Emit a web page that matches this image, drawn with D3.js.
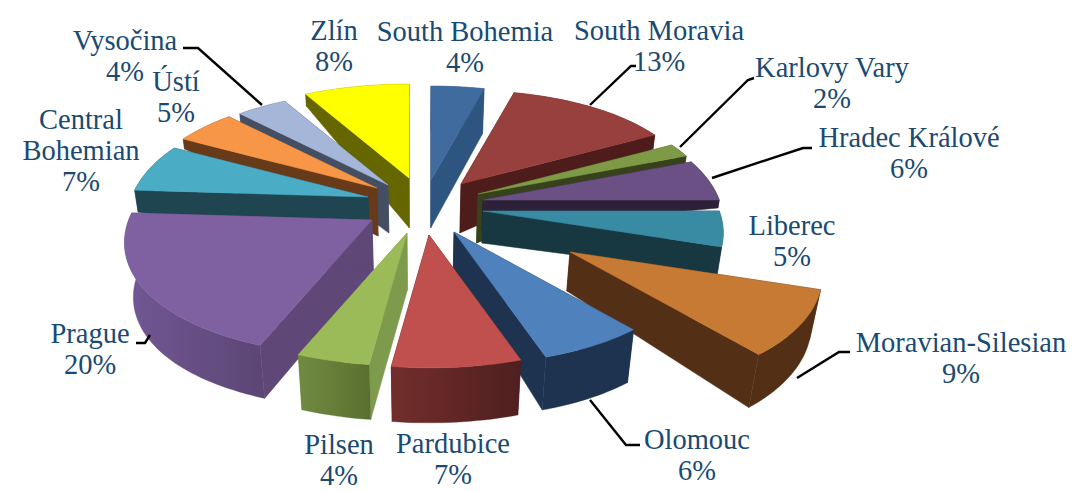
<!DOCTYPE html>
<html><head><meta charset="utf-8">
<script src="https://cdn.jsdelivr.net/npm/d3@7"></script>
<style>html,body{margin:0;background:#fff}svg{display:block}</style></head>
<body><svg id="c" width="1072" height="491"></svg>
<script>
// ---- data ----
const regions = ["South Bohemia","South Moravia","Karlovy Vary","Hradec Králové","Liberec","Moravian-Silesian","Olomouc","Pardubice","Pilsen","Prague","Central Bohemian","Ústí","Vysočina","Zlín"];
const shares  = [4,13,2,6,5,9,6,7,4,20,7,5,4,8];
// ---- style ----
const topColors  = ["#3f6b9e","#97403d","#7f9a46","#6a5085","#398ba3","#c67a34","#4f81bd","#c0504d","#9bbb59","#7f60a0","#4bacc6","#f79646","#a6b6d8","#ffff00"];
const wallColors = ["#2e5580","#4e1c1a","#37421c","#2c2138","#173840","#532f16","#1d334f","#52201f","#7e9a4c","#5f4877","#1f4550","#673b1a","#454f63","#666600"];
const rimLeft    = ["#2e5580","#4e1c1a","#37421c","#2c2138","#173840","#532f16","#1d334f","#722e2c","#718b42","#725895","#1f4550","#673b1a","#454f63","#666600"];
const rimRight   = ["#2e5580","#4e1c1a","#37421c","#2c2138","#173840","#532f16","#1d334f","#4f1f1f","#5a7030","#5c4675","#1f4550","#673b1a","#454f63","#666600"];
// ---- layout ----
const cx = 420, cy = 210, rx = 250, ry = 110, persp = 0.172, taper = 0.03, sideSquash = 0.055;
const explodeX = [11,41,58,63,63,150,34,9,-13,-48,-52,-43,-32,-11];
const explodeY = [-30,-26,-16,-10,1,42,22,25,23,10,-13,-22,-25,-32];
const radiusScale = [1,1,1,1,1,1.05,1,1,1,1.03,1,1,1,1];
const depthTip = [48,49,49,30,32,39,36,56,57,50,48,48,48,50];
const depthStart = [45,14,8,8,27,50,53,55,55,53,22,10,10,12];
const depthEnd   = [45,14,8,8,27,53,53,55,55,55,22,10,10,12];
const labelX = [465,659,832,909,792,961,697,453,339,90,81,176,125,334];
const labelY = [32,31,68,138,226,343,440,444,445,334,120,82,41,31];
const leaders = [
  [[590,105],[631,66],[636,66]],
  [[680,147],[748,80],[754,78]],
  [[712,178],[803,148],[812,148]],
  [[797,378],[839,352],[850,352]],
  [[590,400],[626,445],[640,445]],
  [[136,343],[145,343],[150,335]],
  [[262,105],[198,48],[183,48]]
];

const svg = d3.select("#c");
const pie = d3.pie().sort(null).value(d => d)(shares);
const defs = svg.append("defs");
const line = d3.line();

function rimOffset(i, theta, r) {
  const w = 1 + persp * r * Math.cos(theta);
  const sn = Math.sin(theta), k = radiusScale[i];
  return [k * rx * r * sn * (1 - sideSquash * sn * sn) / w, -k * ry * r * Math.cos(theta) / w];
}
function point(i, theta, r) {
  const o = rimOffset(i, theta, r);
  return [cx + explodeX[i] + o[0], cy + explodeY[i] + o[1]];
}
function drop(p, d) {
  return [p[0] - (p[0] - cx) * taper * d / 55, p[1] + d];
}
const arcs = pie.map((s, i) => ({...s, i, mid: (s.startAngle + s.endAngle) / 2}));
arcs.sort((a, b) => Math.abs(b.mid - Math.PI) - Math.abs(a.mid - Math.PI));

const g = svg.append("g");
arcs.forEach(s => {
  const i = s.i;
  const a0 = s.startAngle, a1 = s.endAngle;
  const tip = point(i, 0, 0);
  const tipB = drop(tip, depthTip[i]);
  const n = Math.max(6, Math.round((a1 - a0) * 40));
  const angle = d3.scaleLinear().domain([0, n]).range([a0, a1]);
  const depth = d3.scaleLinear().domain([0, n]).range([depthStart[i], depthEnd[i]]);
  const rim = d3.range(n + 1).map(k => point(i, angle(k), 1));
  const rimB = rim.map((p, k) => drop(p, depth(k)));
  const grad = "rim" + i;
  const lg = defs.append("linearGradient").attr("id", grad).attr("gradientUnits", "userSpaceOnUse")
    .attr("x1", d3.min(rim, p => p[0])).attr("x2", d3.max(rim, p => p[0])).attr("y1", 0).attr("y2", 0);
  lg.append("stop").attr("offset", 0).attr("stop-color", rimLeft[i]);
  lg.append("stop").attr("offset", 1).attr("stop-color", rimRight[i]);

  const sg = g.append("g").attr("class", "slice");
  const wall = pts => sg.append("path").attr("d", line(pts) + "Z").attr("fill", wallColors[i]).attr("stroke", wallColors[i]).attr("stroke-width", 0.5);
  wall([tip, rim[0], rimB[0], tipB]);
  wall([tip, rim[n], rimB[n], tipB]);
  sg.append("path").attr("d", line(rim.concat(rimB.slice().reverse())) + "Z")
    .attr("fill", `url(#${grad})`).attr("stroke", rimRight[i]).attr("stroke-width", 0.3);
  sg.append("path").attr("d", line([tip].concat(rim)) + "Z")
    .attr("fill", topColors[i]).attr("stroke", topColors[i]).attr("stroke-width", 0.5);
});

svg.append("g").selectAll("path").data(leaders).join("path")
  .attr("d", d => line(d)).attr("fill", "none").attr("stroke", "#000").attr("stroke-width", 2.4);

const textColor = "#1a4a72";
const labels = svg.append("g").attr("font-family", "'Liberation Serif'").attr("font-size", 28.5)
  .attr("fill", textColor).attr("text-anchor", "middle");
regions.forEach((name, i) => {
  const lines = name === "Central Bohemian" ? ["Central", "Bohemian"] : [name];
  lines.concat(shares[i] + "%").forEach((t, k) => {
    labels.append("text").attr("x", labelX[i]).attr("y", labelY[i] + k * 31 + 9).text(t);
  });
});
</script></body></html>
